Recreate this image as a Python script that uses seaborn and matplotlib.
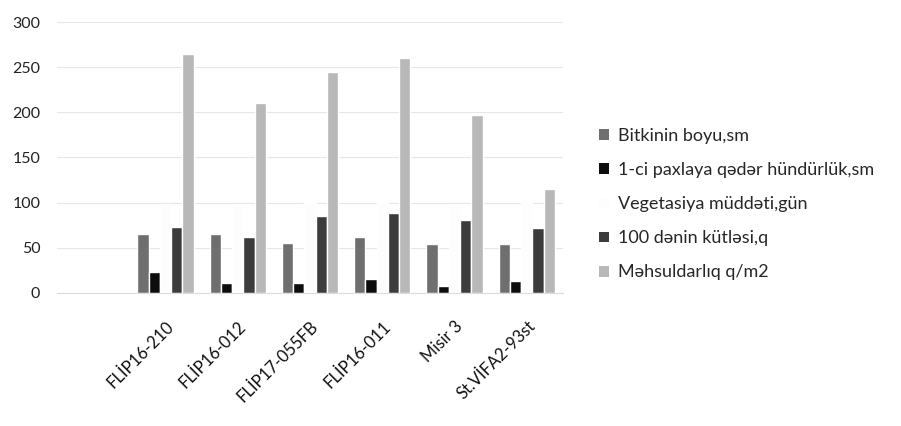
import matplotlib
matplotlib.use("Agg")
import matplotlib.pyplot as plt
from matplotlib.patches import Patch
import pandas as pd
import seaborn as sns

# Chickpea line trial: plant traits per variety
varieties = ["FLİP16-210", "FLİP16-012", "FLİP17-055FB", "FLİP16-011", "Misir 3", "St.VİFA2-93st"]
series_names = [
    "Bitkinin boyu,sm",
    "1-ci paxlaya qədər hündürlük,sm",
    "Vegetasiya müddəti,gün",
    "100 dənin kütləsi,q",
    "Məhsuldarlıq q/m2",
]
plant_height = [65, 65, 55, 62, 54, 54]
first_pod_height = [23, 11, 11, 15, 8, 13]
vegetation_days = [98, 95, 102, 100, 96, 105]
seed_mass_100 = [73, 62, 85, 89, 81, 72]
yield_qm2 = [265, 210, 245, 260, 197, 115]
yticks = [0, 50, 100, 150, 200, 250, 300]

colors = ["#6f6f6f", "#0d0d0d", "#fdfdfd", "#3c3c3c", "#b8b8b8"]

values = [plant_height, first_pod_height, vegetation_days, seed_mass_100, yield_qm2]
rows = []
for name, vals in zip(series_names, values):
    for v, val in zip(varieties, vals):
        rows.append({"Sort": v, "Göstərici": name, "Dəyər": val})
df = pd.DataFrame(rows)

sns.set_style("white")
plt.rcParams["font.family"] = ["Lato", "DejaVu Sans"]

fig = plt.figure(figsize=(9.01, 4.26), dpi=100)
ax = fig.add_axes([57 / 901, 1 - 293 / 426, 506 / 901, 271 / 426])

sns.barplot(
    data=df, x="Sort", y="Dəyər", hue="Göstərici",
    order=varieties, hue_order=series_names,
    palette=colors, errorbar=None, width=0.78,
    saturation=1, legend=False, ax=ax, zorder=2,
)

ax.set_xlim(-1.5, 5.5)
ax.set_ylim(0, 300)
ax.set_yticks(yticks)
ax.set_yticklabels([str(t) for t in yticks], fontsize=11.5, color="#222222")
ax.yaxis.grid(True, color="#e6e6e6", lw=0.8, zorder=0)
ax.set_axisbelow(True)
ax.set_xlabel("")
ax.set_ylabel("")
for side in ["top", "right", "left"]:
    ax.spines[side].set_visible(False)
ax.spines["bottom"].set_color("#dcdcdc")
ax.spines["bottom"].set_linewidth(0.8)
ax.tick_params(axis="both", length=0)
ax.tick_params(axis="y", pad=12)
ax.tick_params(axis="x", pad=18)
plt.setp(ax.get_xticklabels(), rotation=45, ha="right",
         rotation_mode="anchor", fontsize=12, color="#111111")

handles = [Patch(facecolor=c, edgecolor="none") for c in colors]
fig.legend(
    handles, series_names, loc="upper left",
    bbox_to_anchor=(583 / 901, 1 - 112 / 426),
    frameon=False, fontsize=13, handlelength=0.55, handleheight=0.55,
    handletextpad=0.5, labelspacing=1.0,
)

fig.savefig("out.png", dpi=100, facecolor="white")
